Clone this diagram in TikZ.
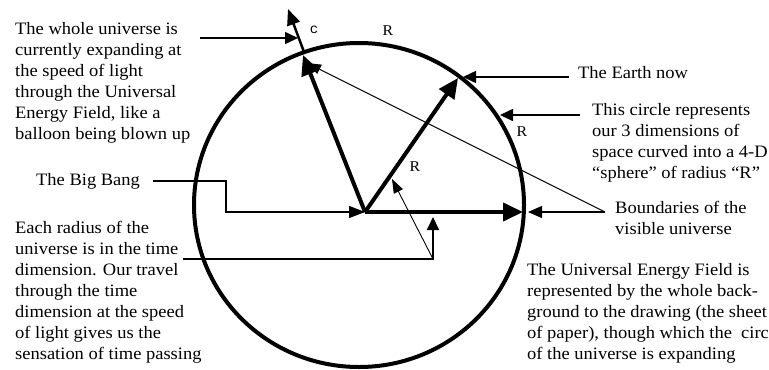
\documentclass[tikz,border=0pt]{standalone}
\usepackage{fontspec}
\setmainfont{Liberation Serif}[FakeStretch=1.06]
\newfontfamily\cfont{Liberation Mono}
\usetikzlibrary{arrows.meta}
\begin{document}
\begin{tikzpicture}[x=1bp,y=-1bp,
  txt/.style={font=\fontsize{17.5}{21}\selectfont, align=left, inner sep=0pt, anchor=base west},
  lbl/.style={font=\fontsize{15}{18}\selectfont, inner sep=0pt},
  bigarrow/.style={line width=4bp, -{Triangle[length=20bp,width=18bp]}},
  carrow/.style={line width=2.5bp, -{Triangle[length=16bp,width=13bp]}},
  ptr/.style={line width=1.6bp, -{Triangle[length=13bp,width=12bp]}},
  thinptr/.style={line width=0.9bp, -{Triangle[length=14bp,width=10bp]}},
  plain/.style={line width=1.2bp}
]
\useasboundingbox (0,0) rectangle (769,369);
\fill[white] (0,0) rectangle (769,369);

% circle of the universe
\draw[line width=4bp] (359,205) ellipse [x radius=165bp, y radius=162bp];

% points
\coordinate (bb) at (365,212);
\coordinate (rtip) at (523,212);
\coordinate (etip) at (458,78);
\coordinate (utip) at (303,55);
\coordinate (cstart) at (304,52);
\coordinate (ctip) at (288,9);

% radii
\draw[bigarrow] (bb) -- (rtip);
\draw[bigarrow] (bb) -- (etip);
\draw[bigarrow] (bb) -- (utip);
\draw[carrow] (cstart) -- (ctip);

% labels
\node[lbl, font=\cfont\fontsize{14}{16}\selectfont] (lc) at (314,30) {c};
\node[lbl] (lr1) at (388,31) {R};
\node[lbl] (lr2) at (522,132) {R};
\node[lbl] (lr3) at (415,167) {R};

% texts (anchor = baseline of last line)
\node[txt] (t1) at (15,139) {The whole universe is\\currently expanding at\\the speed of light\\through the Universal\\Energy Field, like a\\balloon being blown up};
\node[txt] (t2) at (36,185) {The Big Bang};
\node[txt] (t3) at (15,359) {Each radius of the\\universe is in the time\\dimension. Our travel\\through the time\\dimension at the speed\\of light gives us the\\sensation of time passing};
\node[txt] (t4) at (578,78) {The Earth now};
\node[txt] (t5) at (592,178) {This circle represents\\our 3 dimensions of\\space curved into a 4-D\\“sphere” of radius “R”};
\node[txt] (t6) at (615,234) {Boundaries of the\\visible universe};
\node[txt] (t7) at (527,359) {The Universal Energy Field is\\represented by the whole back-\\ground to the drawing (the sheet\\of paper), though which the\ \ circle\\of the universe is expanding};

% connector points
\coordinate (a1s) at (200,38);
\coordinate (a1e) at (298,38);
\coordinate (bbs) at (153,181);
\coordinate (bbk1) at (226,181);
\coordinate (bbk2) at (226,212);
\coordinate (ers) at (183,259);
\coordinate (erk) at (433,259);
\coordinate (ert) at (433,217);
\coordinate (erd) at (392,179);
\coordinate (es) at (569,77);
\coordinate (ee) at (463,77);
\coordinate (cs) at (580,115);
\coordinate (ce) at (500,115);
\coordinate (bs) at (605,212);
\coordinate (be) at (528,212);
\coordinate (bd) at (307,63);

\draw[ptr] (a1s) -- (a1e);
\draw[plain, -{Triangle[length=16bp,width=12bp]}] (bbs) -- (bbk1) -- (bbk2) -- (bb);
\draw[line width=2bp, -{Triangle[length=13bp,width=12bp]}] (ers) -- (erk) -- (ert);
\draw[thinptr] (erk) -- (erd);
\draw[ptr] (es) -- (ee);
\draw[ptr] (cs) -- (ce);
\draw[plain, -{Triangle[length=14bp,width=12bp]}] (bs) -- (be);
\draw[thinptr] (bs) -- (bd);
\end{tikzpicture}
\end{document}
